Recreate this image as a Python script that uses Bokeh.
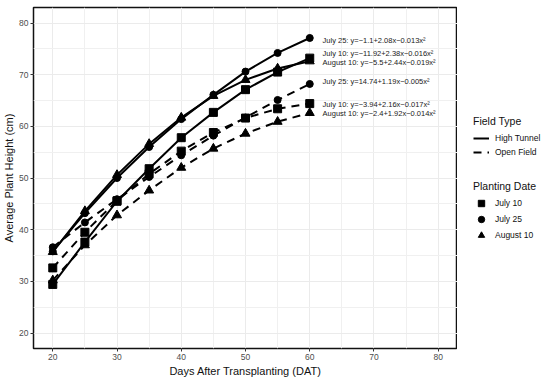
from bokeh.plotting import figure
from bokeh.models import Range1d, Legend, LegendItem, FixedTicker
from bokeh.layouts import row
from bokeh.core.properties import value
from bokeh.embed import file_html
from bokeh.resources import INLINE

days = [20, 25, 30, 35, 40, 45, 50, 55, 60]

ht_jul10 = [29.4, 37.6, 45.5, 51.8, 57.8, 62.7, 67.1, 70.5, 73.2]
ht_jul25 = [35.8, 43.2, 50.0, 56.0, 61.4, 66.1, 70.6, 74.2, 77.1]
ht_aug10 = [35.7, 43.6, 50.6, 56.6, 61.7, 65.9, 69.0, 71.2, 72.6]
of_jul10 = [32.6, 39.5, 45.6, 50.8, 55.2, 58.8, 61.6, 63.4, 64.4]
of_jul25 = [36.6, 41.4, 45.9, 50.2, 54.4, 58.2, 61.7, 65.1, 68.2]
of_aug10 = [30.2, 37.0, 42.8, 47.6, 52.0, 55.7, 58.6, 60.9, 62.6]

eq_labels = [
    "July 25: y=\u22121.1+2.08x\u22120.013x\u00b2",
    "July 10: y=\u221211.92+2.38x\u22120.016x\u00b2",
    "August 10: y=\u22125.5+2.44x\u22120.019x\u00b2",
    "July 25: y=14.74+1.19x\u22120.005x\u00b2",
    "July 10: y=\u22123.94+2.16x\u22120.017x\u00b2",
    "August 10: y=\u22122.4+1.92x\u22120.014x\u00b2",
]
eq_x = [62, 62, 62, 62, 62, 62]
eq_y = [76.6, 74.1, 72.35, 68.7, 64.3, 62.4]

x_ticks = [20, 30, 40, 50, 60, 70, 80]
y_ticks = [20, 30, 40, 50, 60, 70, 80]
minor = [25, 35, 45, 55, 65, 75]

field_types = ["High Tunnel", "Open Field"]
field_dash = ["solid", "8 6"]
planting_dates = ["July 10", "July 25", "August 10"]
planting_markers = ["square", "circle", "triangle"]
marker_sizes = [8, 7, 9]

FONT = "Liberation Sans"

p = figure(width=457, height=382, output_backend="svg", toolbar_location=None,
           x_range=Range1d(17, 83), y_range=Range1d(17, 83),
           min_border_left=0, min_border_right=0, min_border_top=7, min_border_bottom=34)

p.background_fill_color = "white"
p.border_fill_color = "white"
p.outline_line_color = "#111111"
p.outline_line_width = 1.5

for ax in (p.xaxis[0], p.yaxis[0]):
    ax.axis_line_color = None
    ax.major_tick_out = 3
    ax.major_tick_in = 0
    ax.minor_tick_out = 0
    ax.minor_tick_in = 0
    ax.major_tick_line_color = "#333333"
    ax.major_label_text_font = FONT
    ax.major_label_text_font_size = "8.5px"
    ax.major_label_text_color = "#4d4d4d"
    ax.axis_label_text_font = FONT
    ax.axis_label_text_font_size = "11px"
    ax.axis_label_text_font_style = "normal"
    ax.axis_label_text_color = "#111111"
    ax.major_label_standoff = 2
    ax.axis_label_standoff = 2

p.yaxis[0].axis_label_standoff = 1
p.xaxis.ticker = FixedTicker(ticks=x_ticks, minor_ticks=minor)
p.yaxis.ticker = FixedTicker(ticks=y_ticks, minor_ticks=minor)
p.xaxis.axis_label = "Days After Transplanting (DAT)"
p.yaxis.axis_label = "Average Plant Height (cm)"

p.xgrid.grid_line_color = "#ebebeb"
p.ygrid.grid_line_color = "#ebebeb"
p.xgrid.minor_grid_line_color = "#f0f0f0"
p.ygrid.minor_grid_line_color = "#f0f0f0"

series = [
    (ht_jul10, 0, 0), (ht_jul25, 0, 1), (ht_aug10, 0, 2),
    (of_jul10, 1, 0), (of_jul25, 1, 1), (of_aug10, 1, 2),
]
for ys, fi, pi in series:
    p.line(days, ys, line_color="black", line_width=2, line_dash=field_dash[fi])
    p.scatter(days, ys, marker=planting_markers[pi], size=marker_sizes[pi],
              fill_color="black", line_color="black")

p.text(x=eq_x, y=eq_y, text=eq_labels, text_font=value(FONT), text_font_size="7.5px",
       text_baseline="middle", text_align="left", text_color="#1a1a1a")

# legend panel (proxy renderers use the series data, which lies outside this panel's 0..1 range)
q = figure(width=93, height=382, output_backend="svg", toolbar_location=None,
           x_range=Range1d(0, 1), y_range=Range1d(0, 1),
           min_border_left=0, min_border_right=0, min_border_top=0, min_border_bottom=0)
q.axis.visible = False
q.grid.visible = False
q.outline_line_color = None
q.background_fill_color = "white"
q.border_fill_color = "white"

line_items = []
for name, dash, ys in zip(field_types, field_dash, [ht_jul10, of_jul10]):
    r = q.line(x=days, y=ys, line_color="black", line_width=2, line_dash=dash)
    line_items.append(LegendItem(label=name, renderers=[r]))
mark_items = []
for name, mk, sz, ys in zip(planting_dates, planting_markers, marker_sizes,
                            [ht_jul10, ht_jul25, ht_aug10]):
    r = q.scatter(x=days, y=ys, marker=mk, size=sz - 1, fill_color="black", line_color="black")
    mark_items.append(LegendItem(label=name, renderers=[r]))

def style_legend(lg):
    lg.background_fill_alpha = 0
    lg.border_line_alpha = 0
    lg.padding = 0
    lg.margin = 0
    lg.spacing = 0
    lg.title_text_font = FONT
    lg.title_text_font_size = "10.5px"
    lg.title_text_font_style = "normal"
    lg.title_text_color = "#111111"
    lg.label_text_font = FONT
    lg.label_text_font_size = "8.5px"
    lg.label_text_color = "#111111"
    lg.glyph_width = 16
    lg.label_standoff = 6

lg1 = Legend(items=line_items, title="Field Type", location=(16, 189))
style_legend(lg1)
lg1.glyph_height = 14
lg1.label_height = 14
lg1.title_standoff = 4

lg2 = Legend(items=mark_items, title="Planting Date", location=(16, 105))
style_legend(lg2)
lg2.glyph_height = 16
lg2.label_height = 16
lg2.title_standoff = 3

q.add_layout(lg1, "center")
q.add_layout(lg2, "center")

layout = row(p, q, spacing=0)
open("out.html", "w").write(file_html(layout, INLINE))
